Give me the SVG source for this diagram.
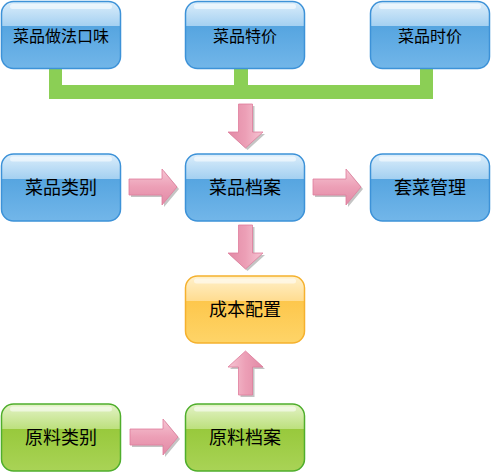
<svg xmlns="http://www.w3.org/2000/svg" width="492" height="473" viewBox="0 0 492 473">
<defs>
<linearGradient id="gBlue" x1="0" y1="0" x2="0" y2="1">
<stop offset="0" stop-color="#dceefb"/>
<stop offset="0.37" stop-color="#a4d0f1"/>
<stop offset="0.37" stop-color="#56a5e0"/>
<stop offset="1" stop-color="#72b6e9"/>
</linearGradient>
<linearGradient id="gOrange" x1="0" y1="0" x2="0" y2="1">
<stop offset="0" stop-color="#fff1cc"/>
<stop offset="0.37" stop-color="#ffdc90"/>
<stop offset="0.37" stop-color="#fdc74c"/>
<stop offset="1" stop-color="#fed468"/>
</linearGradient>
<linearGradient id="gGreen" x1="0" y1="0" x2="0" y2="1">
<stop offset="0" stop-color="#e4f3c8"/>
<stop offset="0.37" stop-color="#bde07e"/>
<stop offset="0.37" stop-color="#98c93c"/>
<stop offset="1" stop-color="#a9d356"/>
</linearGradient>
<linearGradient id="gArrow" x1="0" y1="0" x2="0" y2="1">
<stop offset="0" stop-color="#f6c6d4"/>
<stop offset="0.5" stop-color="#ec9fb6"/>
<stop offset="1" stop-color="#e28aa6"/>
</linearGradient>
<path id="arR" d="M0,-8 H33 V-18 L48,0 L33,18 V8 H0 Z"/>
<path id="arD" d="M0,-7 H28 V-17.5 L44,0 L28,17.5 V7 H0 Z"/>
</defs>
<style>
.blue{fill:url(#gBlue);stroke:#3d92d8;stroke-width:1.5}
.orange{fill:url(#gOrange);stroke:#f5b12e;stroke-width:1.5}
.green{fill:url(#gGreen);stroke:#4fae2c;stroke-width:1.5}
.hl{fill:#ffffff;opacity:0.55}
.t1{font-family:"Noto Sans CJK SC","Noto Sans",sans-serif;font-size:16px;fill:#000;text-anchor:middle}
.t2{font-family:"Noto Sans CJK SC","Noto Sans",sans-serif;font-size:18px;fill:#000;text-anchor:middle}
.bar{fill:#8bcf55}
.arrow{fill:url(#gArrow);stroke:#e07c9c;stroke-width:0.8}
.shadow{fill:#c4c4c4}
</style>

<g id="connectors">
<rect class="bar" x="49" y="69" width="13" height="30"/>
<rect class="bar" x="234" y="69" width="14" height="30"/>
<rect class="bar" x="420" y="69" width="13" height="30"/>
<rect class="bar" x="49" y="85" width="384" height="14"/>
<g transform="translate(247.5,106)"><use href="#arD" class="shadow" transform="rotate(90)"/></g>
<g transform="translate(245.5,104)"><use href="#arD" class="arrow" transform="rotate(90)"/></g>
<g transform="translate(131,189)"><use href="#arR" class="shadow"/></g>
<g transform="translate(129,187)"><use href="#arR" class="arrow"/></g>
<g transform="translate(315,189)"><use href="#arR" class="shadow"/></g>
<g transform="translate(313,187)"><use href="#arR" class="arrow"/></g>
<g transform="translate(247.5,227)"><use href="#arD" class="shadow" transform="rotate(90)"/></g>
<g transform="translate(245.5,225)"><use href="#arD" class="arrow" transform="rotate(90)"/></g>
<g transform="translate(247.5,397)"><use href="#arD" class="shadow" transform="rotate(-90)"/></g>
<g transform="translate(245.5,395)"><use href="#arD" class="arrow" transform="rotate(-90)"/></g>
<g transform="translate(132,439)"><use href="#arR" class="shadow"/></g>
<g transform="translate(130,437)"><use href="#arR" class="arrow"/></g>
</g>

<g id="n1">
<rect class="blue" x="1.5" y="1.5" width="119" height="67" rx="12"/>
<rect class="hl" x="10" y="4" width="102" height="5" rx="2.5"/>
<text class="t1" x="61" y="41.5">菜品做法口味</text>
</g>
<g id="n2">
<rect class="blue" x="185.5" y="1.5" width="119" height="67" rx="12"/>
<rect class="hl" x="194" y="4" width="102" height="5" rx="2.5"/>
<text class="t1" x="245" y="41.5">菜品特价</text>
</g>
<g id="n3">
<rect class="blue" x="370.5" y="1.5" width="119" height="67" rx="12"/>
<rect class="hl" x="379" y="4" width="102" height="5" rx="2.5"/>
<text class="t1" x="430" y="41.5">菜品时价</text>
</g>
<g id="n4">
<rect class="blue" x="1.5" y="154" width="119" height="67" rx="12"/>
<rect class="hl" x="10" y="156.5" width="102" height="5" rx="2.5"/>
<text class="t2" x="61" y="194">菜品类别</text>
</g>
<g id="n5">
<rect class="blue" x="185.5" y="154" width="119" height="67" rx="12"/>
<rect class="hl" x="194" y="156.5" width="102" height="5" rx="2.5"/>
<text class="t2" x="245" y="194">菜品档案</text>
</g>
<g id="n6">
<rect class="blue" x="370.5" y="154" width="119" height="67" rx="12"/>
<rect class="hl" x="379" y="156.5" width="102" height="5" rx="2.5"/>
<text class="t2" x="430" y="194">套菜管理</text>
</g>
<g id="n7">
<rect class="orange" x="185.5" y="276" width="119" height="67" rx="12"/>
<rect class="hl" x="194" y="278.5" width="102" height="5" rx="2.5"/>
<text class="t2" x="245" y="316">成本配置</text>
</g>
<g id="n8">
<rect class="green" x="1.5" y="404" width="119" height="67" rx="12"/>
<rect class="hl" x="10" y="406.5" width="102" height="5" rx="2.5"/>
<text class="t2" x="61" y="444">原料类别</text>
</g>
<g id="n9">
<rect class="green" x="185.5" y="404" width="119" height="67" rx="12"/>
<rect class="hl" x="194" y="406.5" width="102" height="5" rx="2.5"/>
<text class="t2" x="245" y="444">原料档案</text>
</g>
</svg>
